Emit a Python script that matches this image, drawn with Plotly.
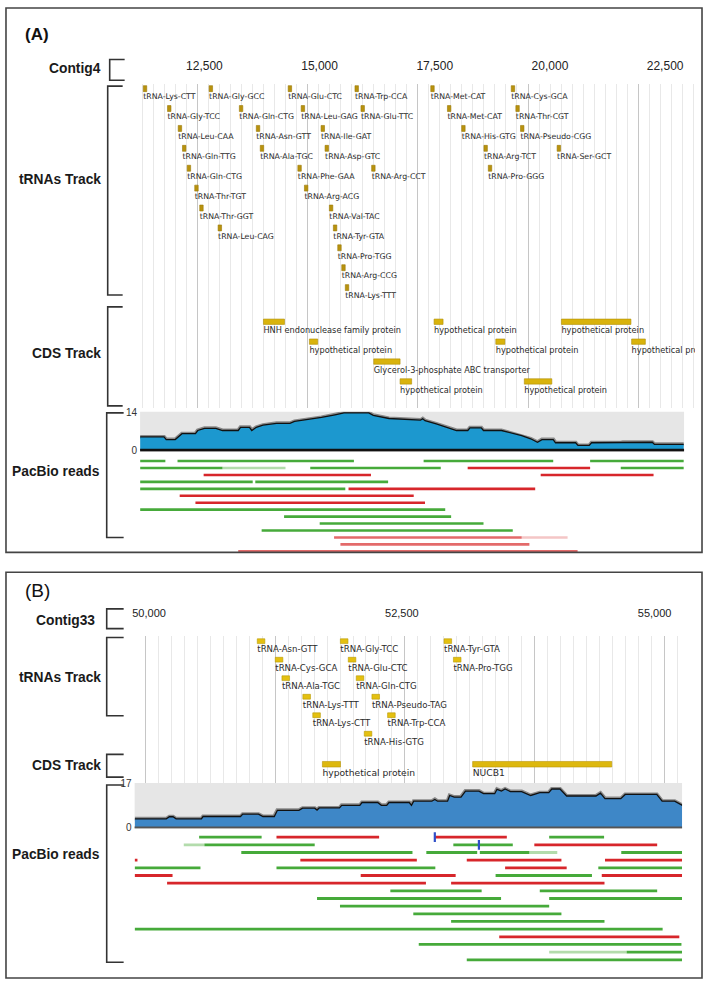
import plotly.graph_objects as go

W, H = 706, 988

# ================= PANEL A DATA =================
A_ruler_ticks = [12500, 15000, 17500, 20000, 22500]

A_trna_names = ["tRNA-Lys-CTT", "tRNA-Gly-GCC", "tRNA-Glu-CTC", "tRNA-Trp-CCA", "tRNA-Met-CAT", "tRNA-Cys-GCA",
                "tRNA-Gly-TCC", "tRNA-Gln-CTG", "tRNA-Leu-GAG", "tRNA-Glu-TTC", "tRNA-Met-CAT", "tRNA-Thr-CGT",
                "tRNA-Leu-CAA", "tRNA-Asn-GTT", "tRNA-Ile-GAT", "tRNA-His-GTG", "tRNA-Pseudo-CGG",
                "tRNA-Gln-TTG", "tRNA-Ala-TGC", "tRNA-Asp-GTC", "tRNA-Arg-TCT", "tRNA-Ser-GCT",
                "tRNA-Gln-CTG", "tRNA-Phe-GAA", "tRNA-Arg-CCT", "tRNA-Pro-GGG",
                "tRNA-Thr-TGT", "tRNA-Arg-ACG",
                "tRNA-Thr-GGT", "tRNA-Val-TAC",
                "tRNA-Leu-CAG", "tRNA-Tyr-GTA",
                "tRNA-Pro-TGG", "tRNA-Arg-CCG", "tRNA-Lys-TTT"]
A_trna_start = [11173, 12602, 14318, 15768, 17413, 19160,
                11699, 13258, 14600, 15898, 17775, 19260,
                11931, 13626, 15032, 18084, 19361,
                12024, 13712, 15119, 18567, 20156,
                12126, 14528, 16130, 18662,
                12290, 14671,
                12398, 15212,
                12797, 15299,
                15394, 15481, 15558]
A_trna_row = [0, 0, 0, 0, 0, 0,
              1, 1, 1, 1, 1, 1,
              2, 2, 2, 2, 2,
              3, 3, 3, 3, 3,
              4, 4, 4, 4,
              5, 5,
              6, 6,
              7, 7,
              8, 9, 10]
TRNA_LEN = 75

A_cds_names = ["HNH endonuclease family protein", "hypothetical protein", "hypothetical protein",
               "hypothetical protein", "hypothetical protein", "hypothetical protein",
               "Glycerol-3-phosphate ABC transporter", "hypothetical protein", "hypothetical protein"]
A_cds_start = [13781, 17485, 20249, 14779, 18825, 21773, 16175, 16747, 19444]
A_cds_end = [14238, 17680, 21758, 14959, 19022, 22071, 16747, 16998, 20041]
A_cds_row = [0, 0, 0, 1, 1, 1, 2, 3, 3]

A_cov_pos = [11104, 11623, 11671, 11866, 12013, 12305, 12355, 12502, 12747, 12892, 13234, 13284, 13478,
             13528, 13626, 13771, 14065, 14357, 14455, 14797, 15041, 15334, 15530, 16067, 16165, 16507,
             17191, 17238, 17288, 17532, 17777, 17972, 18216, 18264, 18509, 18558, 18948, 19143, 19387,
             19582, 19729, 19827, 20071, 20121, 20558, 20608, 20853, 20903, 21537, 21585, 22221, 22269, 22903]
A_cov_depth = [5.0, 5.0, 4.0, 4.0, 6.2, 6.2, 7.4, 8.2, 8.2, 7.4, 7.4, 8.6, 8.6,
               7.4, 8.6, 9.4, 10.1, 10.1, 10.8, 11.6, 12.3, 13.3, 14.0, 14.0, 13.1, 11.9,
               11.3, 11.8, 11.1, 9.9, 8.4, 7.4, 7.4, 8.4, 8.4, 7.4, 7.4, 6.5, 5.5,
               4.3, 3.0, 4.0, 4.0, 2.8, 2.8, 1.8, 1.8, 2.8, 2.8, 3.0, 3.0, 2.2, 2.2]
A_cov_max = 14

A_read_row = [0, 0, 0, 0,
              1, 1, 1, 1, 1,
              2, 2,
              3, 3,
              4, 4,
              5, 6, 7, 8, 9, 10,
              11, 11, 12, 13]
A_read_start = [11104, 11916, 17258, 20872,
                11104, 12892, 14797, 18214, 21537,
                12483, 19799,
                11104, 13604,
                11104, 15628,
                11963, 12305, 11104, 14229, 15002, 13742,
                15314, 19387, 15452, 13234]
A_read_end = [11652, 15745, 20071, 22903,
              12892, 14260, 17630, 20872, 22903,
              16115, 22249,
              13548, 16487,
              15558, 19680,
              17043, 17288, 17727, 17855, 18558, 19193,
              19387, 20383, 19554, 20600]
A_read_kind = ["g", "g", "g", "g",
               "g", "gl", "g", "r", "g",
               "r", "r",
               "g", "g",
               "g", "r",
               "r", "r", "g", "g", "g", "g",
               "rl", "rp", "rl", "rl"]

# ================= PANEL B DATA =================
B_ruler_ticks = [50000, 52500, 55000]

B_trna_names = ["tRNA-Asn-GTT", "tRNA-Gly-TCC", "tRNA-Tyr-GTA",
                "tRNA-Cys-GCA", "tRNA-Glu-CTC", "tRNA-Pro-TGG",
                "tRNA-Ala-TGC", "tRNA-Gln-CTG",
                "tRNA-Lys-TTT", "tRNA-Pseudo-TAG",
                "tRNA-Lys-CTT", "tRNA-Trp-CCA",
                "tRNA-His-GTG"]
B_trna_start = [51070, 51892, 52917,
                51248, 51970, 53010,
                51314, 52049,
                51521, 52204,
                51619, 52359,
                52128]
B_trna_row = [0, 0, 0, 1, 1, 1, 2, 2, 3, 3, 4, 4, 5]

B_cds_names = ["hypothetical protein", "NUCB1"]
B_cds_start = [51714, 53200]
B_cds_end = [51893, 54576]
B_cds_row = [0, 0]

B_cov_pos = [49858, 50170, 50201, 50237, 50267, 50517, 50534, 50904, 50926, 51082, 51126, 51238, 51269,
             51482, 51518, 51638, 51661, 51682, 51883, 51905, 52084, 52106, 52261, 52297, 52350, 52373,
             52573, 52595, 52617, 52796, 52826, 52853, 52952, 52973, 53018, 53085, 53129, 53262, 53308,
             53418, 53441, 53485, 53521, 53574, 53685, 53774, 53864, 53953, 53983, 54064, 54130, 54420,
             54464, 54509, 54665, 54709, 55021, 55074, 55198, 55274]
B_cov_depth = [3.4, 3.4, 4.2, 4.2, 3.4, 3.4, 4.3, 4.3, 5.2, 5.2, 4.3, 4.3, 6.7,
               6.7, 7.5, 7.5, 6.8, 7.6, 7.6, 8.6, 8.6, 9.7, 9.7, 8.6, 8.6, 9.7,
               9.7, 8.6, 10.2, 10.2, 10.9, 10.2, 10.2, 12.4, 11.8, 11.8, 14.1, 14.1, 13.1,
               13.1, 14.8, 14.1, 14.9, 13.9, 13.9, 12.4, 13.5, 13.5, 14.9, 14.9, 12.2, 12.2,
               13.3, 11.2, 11.2, 12.8, 12.8, 10.2, 10.2, 8.6]
B_cov_max = 17

B_read_row = [0, 0, 0, 0,
              1, 1, 1, 1,
              2, 2, 2, 2, 2,
              3, 3, 3, 3,
              4, 4, 4, 4,
              5, 5, 5, 5,
              6, 6,
              7, 7,
              8, 8,
              9, 10, 11, 12, 13, 14,
              15, 15, 16]
B_read_start = [50495, 51260, 52826, 53957,
                50343, 50547, 53009, 53810,
                50912, 52742, 53271, 53761, 54670,
                49857, 51496, 53142, 54509,
                49857, 51260, 53521, 54443,
                49857, 52093, 53427, 54477,
                50178, 52987,
                52386, 53864,
                51661, 53957,
                51888, 52613, 52987, 49857, 53463, 52667,
                53957, 54723, 53142]
B_read_end = [51113, 52275, 53538, 54500,
              50547, 51638, 53597, 55025,
              52605, 53245, 53761, 54037, 55271,
              49885, 52648, 54078, 55271,
              50508, 52831, 54130, 55271,
              50232, 53032, 54380, 55271,
              52738, 54504,
              53289, 55025,
              53481, 55271,
              53957, 54078, 54504, 55079, 55244, 55265,
              54723, 55271, 55271]
B_read_kind = ["g", "r", "r", "g",
               "gl", "g", "g", "r",
               "g", "g", "g", "gl", "g",
               "r", "r", "r", "r",
               "g", "g", "r", "g",
               "r", "r", "g", "r",
               "r", "r",
               "g", "g",
               "g", "g",
               "g", "g", "g", "g", "r", "g",
               "gl", "g", "g"]
B_ins_row = [0, 1]
B_ins_pos = [52826, 53262]

# ================= STYLE / LAYOUT HELPERS =================
READ_COLORS = {"rp": "#F4C6C6", "gl": "#B3DCAC", "rl": "#E36A6A", "g": "#46AA3A", "r": "#D7262B"}


def fx(px):
    return px / W


def fy(px):
    return 1 - px / H


def bp_map(ref_px, ref_bp, bp_per_px):
    return lambda px: ref_bp + (px - ref_px) * bp_per_px


A_bp = bp_map(203, 12500, 21.645)
B_bp = bp_map(401, 52500, 9.862)

fig = go.Figure()
layout_axes = {}


def axname(n, kind):
    return kind if n == 1 else f"{kind}{n}"


def set_axes(n, xdom, xrange_, ydom_px, yrange, xextra=None, yextra=None):
    xa = dict(domain=[fx(xdom[0]), fx(xdom[1])], range=xrange_, anchor=axname(n, "y"),
              showticklabels=False, showgrid=False, zeroline=False, showline=False, ticks="",
              fixedrange=True)
    ya = dict(domain=[fy(ydom_px[1]), fy(ydom_px[0])], range=yrange, anchor=axname(n, "x"),
              showticklabels=False, showgrid=False, zeroline=False, showline=False, ticks="",
              fixedrange=True)
    if xextra:
        xa.update(xextra)
    if yextra:
        ya.update(yextra)
    layout_axes[axname(n, "xaxis")] = xa
    layout_axes[axname(n, "yaxis")] = ya


def row_range(dtop, dbot, row0, pitch):
    return [(dbot - row0) / pitch, (dtop - row0) / pitch]


def grid_extra(tick0, dtick):
    return dict(showgrid=True, gridcolor="#C6C6C6", gridwidth=1, tick0=tick0, dtick=dtick,
                minor=dict(tick0=tick0, dtick=dtick / 10, showgrid=True, gridcolor="#E8E8E8", gridwidth=1))


def add_feature_bars(n, starts, ends, rows, color, lcolor, thick):
    fig.add_trace(go.Bar(orientation="h", base=starts, x=[e - s for s, e in zip(starts, ends)], y=rows,
                         width=thick, marker=dict(color=color, line=dict(color=lcolor, width=0.6)),
                         xaxis=axname(n, "x"), yaxis=axname(n, "y"), hoverinfo="skip", showlegend=False))


def add_labels(n, starts, rows, names, offset, size):
    fig.add_trace(go.Scatter(x=starts, y=[r + offset for r in rows], text=names, mode="text",
                             textposition="middle right",
                             textfont=dict(family="DejaVu Sans", size=size, color="#2a2a2a"),
                             xaxis=axname(n, "x"), yaxis=axname(n, "y"), hoverinfo="skip",
                             showlegend=False, cliponaxis=True))


def add_reads(n, rows, starts, ends, kinds, lw):
    for kind, color in READ_COLORS.items():
        xs, ys = [], []
        for r, s, e, k in zip(rows, starts, ends, kinds):
            if k == kind:
                xs += [s, e, None]
                ys += [r, r, None]
        if xs:
            fig.add_trace(go.Scatter(x=xs, y=ys, mode="lines", line=dict(color=color, width=lw),
                                     xaxis=axname(n, "x"), yaxis=axname(n, "y"), hoverinfo="skip",
                                     showlegend=False))


def add_coverage(n, pos, depth, fill):
    fig.add_trace(go.Scatter(x=pos, y=depth, mode="lines", line=dict(color="#8a8a8a", width=4),
                             xaxis=axname(n, "x"), yaxis=axname(n, "y"), hoverinfo="skip", showlegend=False))
    fig.add_trace(go.Scatter(x=pos, y=depth, mode="lines", fill="tozeroy", fillcolor=fill,
                             line=dict(color="#111111", width=1.3),
                             xaxis=axname(n, "x"), yaxis=axname(n, "y"), hoverinfo="skip", showlegend=False))


def add_ruler(n, ticks, size):
    fig.add_trace(go.Scatter(x=ticks, y=[0] * len(ticks), mode="markers", marker=dict(opacity=0),
                             xaxis=axname(n, "x"), yaxis=axname(n, "y"), hoverinfo="skip", showlegend=False))
    layout_axes[axname(n, "xaxis")].update(dict(showticklabels=True, tickvals=ticks, tickformat=",d",
                                                tickfont=dict(family="Liberation Sans", size=size,
                                                              color="#222")))


shapes = []
annotations = []


def bracket(x, y0, y1, stub=15):
    shapes.append(dict(type="path", xref="paper", yref="paper",
                       path=f"M {fx(x + stub)},{fy(y0)} L {fx(x)},{fy(y0)} L {fx(x)},{fy(y1)} L {fx(x + stub)},{fy(y1)}",
                       line=dict(color="#333", width=1.6)))


def side_label(text, y, xr=101, size=13.8, bold=True):
    annotations.append(dict(text=f"<b>{text}</b>" if bold else text, xref="paper", yref="paper",
                            x=fx(xr), y=fy(y), xanchor="right", yanchor="middle", showarrow=False,
                            font=dict(family="Liberation Sans", size=size, color="#1a1a1a")))


def panel_box(y0, y1):
    shapes.append(dict(type="rect", xref="paper", yref="paper", x0=fx(4), x1=fx(702), y0=fy(y1), y1=fy(y0),
                       line=dict(color="#444", width=1.6)))


def cov_decor(n, lw, col):
    shapes.append(dict(type="rect", xref=f"{axname(n, 'x')} domain", yref=f"{axname(n, 'y')} domain",
                       x0=0, x1=1, y0=0, y1=1, fillcolor="#E6E6E6", line=dict(width=0), layer="below"))
    shapes.append(dict(type="line", xref=f"{axname(n, 'x')} domain", yref=axname(n, "y"),
                       x0=0, x1=1, y0=0, y1=0, line=dict(color=col, width=lw)))


# ================= PANEL A =================
A_tr_x = [138.5, 695]
A_cv_x = [138.5, 684]
A_grid = grid_extra(A_bp(196), 110.5 * 21.645)

set_axes(1, A_tr_x, [A_bp(A_tr_x[0]), A_bp(A_tr_x[1])], [42, 53], [-1, 1])
add_ruler(1, A_ruler_ticks, 12)

set_axes(2, A_tr_x, [A_bp(A_tr_x[0]), A_bp(A_tr_x[1])], [80, 300], row_range(80, 300, 84.5, 20.1), xextra=A_grid)
add_feature_bars(2, A_trna_start, [s + TRNA_LEN for s in A_trna_start], A_trna_row, "#B8920E", "#9C7A08", 0.3)
add_labels(2, A_trna_start, A_trna_row, A_trna_names, 0.44, 7.8)

set_axes(3, A_tr_x, [A_bp(A_tr_x[0]), A_bp(A_tr_x[1])], [300, 407], row_range(300, 407, 320, 20.1), xextra=A_grid)
add_feature_bars(3, A_cds_start, A_cds_end, A_cds_row, "#D9B30C", "#B08E06", 0.27)
add_labels(3, A_cds_start, A_cds_row, A_cds_names, 0.47, 8.2)

set_axes(4, A_cv_x, [A_bp(A_cv_x[0]), A_bp(A_cv_x[1])], [411, 451], [-0.45, 14.4],
         yextra=dict(showticklabels=True, tickvals=[0, A_cov_max], ticklabelstandoff=2,
                     tickfont=dict(family="Liberation Sans Narrow, Liberation Sans", size=10, color="#333")))
cov_decor(4, 3, "#111")
add_coverage(4, A_cov_pos, A_cov_depth, "#1C98CF")

set_axes(5, A_cv_x, [A_bp(A_cv_x[0]), A_bp(A_cv_x[1])], [455, 554], row_range(455, 554, 460.7, 7.02))
add_reads(5, A_read_row, A_read_start, A_read_end, A_read_kind, 2.6)

panel_box(3, 553)
annotations.append(dict(text="<b>(A)</b>", xref="paper", yref="paper", x=fx(21), y=fy(30), xanchor="left",
                        yanchor="middle", showarrow=False,
                        font=dict(family="Liberation Sans", size=17, color="#111")))
side_label("Contig4", 64)
bracket(108, 55, 76)
side_label("tRNAs Track", 176)
bracket(106, 82, 293)
side_label("CDS Track", 352)
bracket(106, 305, 405)
side_label("PacBio reads", 471.5, xr=100)
bracket(105, 412, 538, stub=17)

# ================= PANEL B =================
B_x = [133, 682]
B_grid = grid_extra(B_bp(144), 130 * 9.862)

set_axes(6, B_x, [B_bp(B_x[0]), B_bp(B_x[1])], [597, 606], [-1, 1])
add_ruler(6, B_ruler_ticks, 11)

set_axes(7, B_x, [B_bp(B_x[0]), B_bp(B_x[1])], [637, 750], row_range(637, 750, 642.7, 18.7), xextra=B_grid)
add_feature_bars(7, B_trna_start, [s + TRNA_LEN for s in B_trna_start], B_trna_row, "#E4C010", "#B99A06", 0.26)
add_labels(7, B_trna_start, B_trna_row, B_trna_names, 0.48, 8.6)

set_axes(8, B_x, [B_bp(B_x[0]), B_bp(B_x[1])], [750, 786], row_range(750, 786, 767, 18.7), xextra=B_grid)
add_feature_bars(8, B_cds_start, B_cds_end, B_cds_row, "#DDB80E", "#B89506", 0.3)
add_labels(8, B_cds_start, B_cds_row, B_cds_names, 0.5, 9.2)

set_axes(9, B_x, [B_bp(B_x[0]), B_bp(B_x[1])], [786, 832], [-0.35, 17.2],
         yextra=dict(showticklabels=True, tickvals=[0, B_cov_max], ticklabelstandoff=2,
                     tickfont=dict(family="Liberation Sans Narrow, Liberation Sans", size=10, color="#333")))
cov_decor(9, 2.2, "#555")
add_coverage(9, B_cov_pos, B_cov_depth, "#3E87C7")

set_axes(10, B_x, [B_bp(B_x[0]), B_bp(B_x[1])], [835, 971], row_range(835, 971, 840.7, 7.74))
add_reads(10, B_read_row, B_read_start, B_read_end, B_read_kind, 2.8)
fig.add_trace(go.Scatter(x=B_ins_pos, y=B_ins_row, mode="markers",
                         marker=dict(symbol="line-ns", size=7, line=dict(color="#2F4FC8", width=2.2)),
                         xaxis="x10", yaxis="y10", hoverinfo="skip", showlegend=False))

panel_box(573, 983)
annotations.append(dict(text="(B)", xref="paper", yref="paper", x=fx(21), y=fy(591), xanchor="left",
                        yanchor="middle", showarrow=False,
                        font=dict(family="Liberation Sans", size=19, color="#111")))
side_label("Contig33", 622, xr=95)
bracket(105, 610, 630, stub=17)
side_label("tRNAs Track", 679)
bracket(105, 639, 718, stub=17)
side_label("CDS Track", 768)
bracket(105, 757, 780, stub=17)
side_label("PacBio reads", 858, xr=100)
bracket(105, 788, 967, stub=17)

fig.update_layout(width=W, height=H, autosize=False, margin=dict(l=0, r=0, t=0, b=0),
                  paper_bgcolor="white", plot_bgcolor="rgba(0,0,0,0)", barmode="overlay",
                  showlegend=False, shapes=shapes, annotations=annotations, **layout_axes)

fig.write_html("out.html", config={"displayModeBar": False},
               post_script="document.body.style.margin='0';document.body.style.overflow='hidden';")
